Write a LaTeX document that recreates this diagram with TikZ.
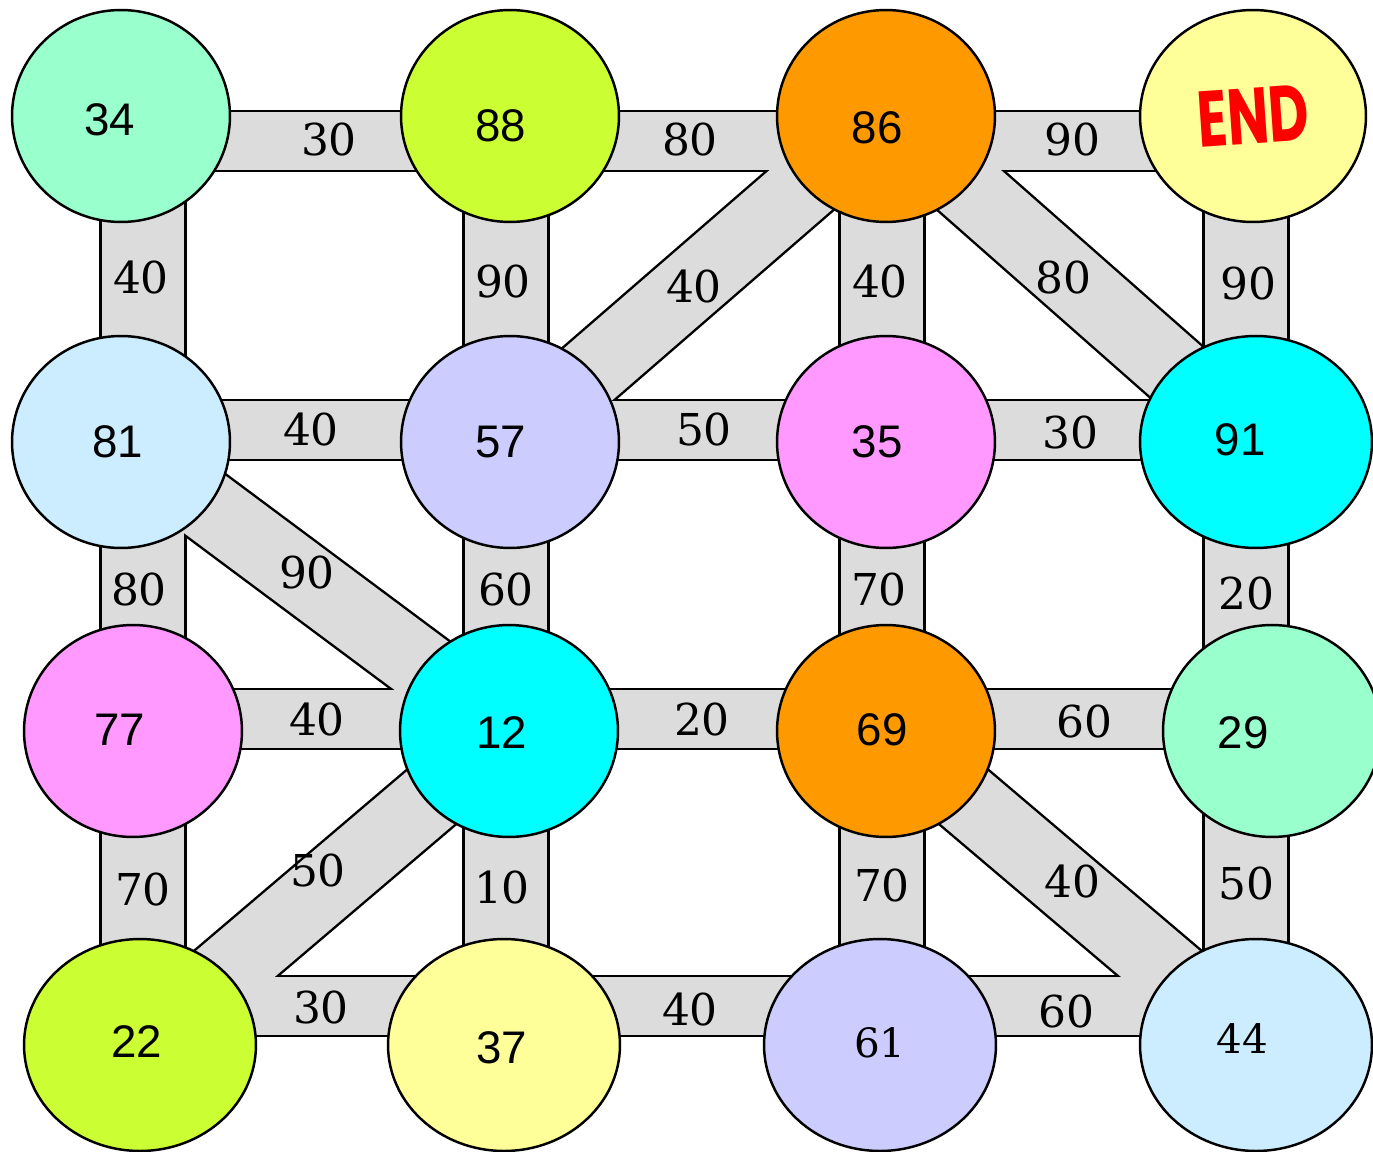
\documentclass[tikz,border=0pt]{standalone}
\usepackage{fontspec}
\setmainfont{DejaVu Serif}
\newfontfamily\numsans{Liberation Sans}
\newfontfamily\endsans{Poppins}
\usetikzlibrary{shapes.geometric}

\definecolor{mint}{HTML}{99FFCC}
\definecolor{lime}{HTML}{CCFF33}
\definecolor{tangerine}{HTML}{FF9900}
\definecolor{lemon}{HTML}{FFFF99}
\definecolor{sky}{HTML}{CCECFF}
\definecolor{lilac}{HTML}{CCCCFF}
\definecolor{pinkish}{HTML}{FF99FF}
\definecolor{aqua}{HTML}{00FFFF}
\definecolor{roadgrey}{HTML}{DCDCDC}
\definecolor{endred}{HTML}{FF0000}

\newcommand{\numfont}{\numsans\fontsize{26}{26}\selectfont}
\newcommand{\serifnum}{\rmfamily\fontsize{23}{23}\selectfont}
\newcommand{\wtfont}{\rmfamily\fontsize{25}{26}\selectfont}

\begin{document}
\begin{tikzpicture}[x=0.02cm, y=-0.02cm,
  ball/.style={ellipse, draw, line width=1.4pt, inner sep=0pt, minimum width=4.36cm, minimum height=4.24cm},
  wideball/.style={ball, minimum width=4.64cm},
  weight/.style={font=\wtfont, inner sep=0pt},
  every label/.style={font=\numfont, inner sep=0pt}]
  \useasboundingbox (0,0) rectangle (1373,1152);
  \fill[white] (0,0) rectangle (1373,1152);

  % circle centres
  \coordinate (c34) at (121,116);
  \coordinate (c88) at (510,116);
  \coordinate (c86) at (886,116);
  \coordinate (cEND) at (1253,116);
  \coordinate (c81) at (121,442);
  \coordinate (c57) at (510,442);
  \coordinate (c35) at (886,442);
  \coordinate (c91) at (1256,442);
  \coordinate (c77) at (133,731);
  \coordinate (c12) at (509,731);
  \coordinate (c69) at (886,731);
  \coordinate (c29) at (1272,731);
  \coordinate (c22) at (140,1045);
  \coordinate (c37) at (504,1045);
  \coordinate (c61) at (880,1045);
  \coordinate (c44) at (1256,1045);

  % road lines
  \coordinate (h1) at (0,141);
  \coordinate (h2) at (0,430);
  \coordinate (h3) at (0,719);
  \coordinate (h4) at (0,1006);
  \coordinate (v1) at (143,0);
  \coordinate (v2) at (506,0);
  \coordinate (v3) at (882,0);
  \coordinate (v4) at (1246,0);

  % roads: black edges first, grey inside after
  \foreach \ink/\more in {black/2.8pt, roadgrey/0pt} {
    \draw[\ink, line width=32.9pt+\more]
      (c34 |- h1) -- (c88 |- h1) -- (c86 |- h1) -- (cEND |- h1)
      (c81 |- h2) -- (c57 |- h2) -- (c35 |- h2) -- (c91 |- h2)
      (c77 |- h3) -- (c12 |- h3) -- (c69 |- h3) -- (c29 |- h3)
      (c22 |- h4) -- (c37 |- h4) -- (c61 |- h4) -- (c44 |- h4);
    \draw[\ink, line width=47.1pt+\more]
      (v1 |- c34) -- (v1 |- c81) -- (v1 |- c77) -- (v1 |- c22)
      (v2 |- c88) -- (v2 |- c57) -- (v2 |- c12) -- (v2 |- c37)
      (v3 |- c86) -- (v3 |- c35) -- (v3 |- c69) -- (v3 |- c61)
      (v4 |- cEND) -- (v4 |- c91) -- (v4 |- c29) -- (v4 |- c44);
    \draw[\ink, line width=40.3pt+\more]
      (c86) -- (c57) (c86) -- (c91) (c81) -- (c12) (c12) -- (c22) (c69) -- (c44);
  }

  % road weights
  \node[weight] (w3488) at (329,140) {30};
  \node[weight] (w8886) at (690,140) {80};
  \node[weight] (w86E) at (1072,140) {90};
  \node[weight] (w3481) at (141,278) {40};
  \node[weight] (w8857) at (503,282) {90};
  \node[weight] (w8657) at (694,287) {40};
  \node[weight] (w8635) at (880,282) {40};
  \node[weight] (w8691) at (1063,278) {80};
  \node[weight] (wE91) at (1248,284) {90};
  \node[weight] (w8157) at (311,430) {40};
  \node[weight] (w5735) at (704,430) {50};
  \node[weight] (w3591) at (1070,433) {30};
  \node[weight] (w8177) at (139,590) {80};
  \node[weight] (w8112) at (307,573) {90};
  \node[weight] (w5712) at (506,590) {60};
  \node[weight] (w3569) at (879,590) {70};
  \node[weight] (w9129) at (1246,594) {20};
  \node[weight] (w7712) at (317,720) {40};
  \node[weight] (w1269) at (702,720) {20};
  \node[weight] (w6929) at (1084,722) {60};
  \node[weight] (w7722) at (143,890) {70};
  \node[weight] (w1222) at (318,871) {50};
  \node[weight] (w1237) at (502,888) {10};
  \node[weight] (w6961) at (882,886) {70};
  \node[weight] (w6944) at (1072,882) {40};
  \node[weight] (w2944) at (1246,884) {50};
  \node[weight] (w2237) at (321,1008) {30};
  \node[weight] (w3761) at (690,1010) {40};
  \node[weight] (w6144) at (1066,1012) {60};

  % stations
  \node[ball, fill=mint, label={[shift={(-11,4)}]center:34}] (n34) at (c34) {};
  \node[ball, fill=lime, label={[shift={(-9,10)}]center:88}] (n88) at (c88) {};
  \node[ball, fill=tangerine, label={[shift={(-9,12)}]center:86}] (n86) at (c86) {};
  \node[ball, fill=lemon, minimum width=4.52cm,
    label={[rotate=4, font=\endsans\bfseries\fontsize{45}{45}\selectfont, text=endred]center:\scalebox{0.7}[1]{END}}] (nEND) at (cEND) {};
  \node[ball, fill=sky, label={[shift={(-3,0)}]center:81}] (n81) at (c81) {};
  \node[ball, fill=lilac, label={[shift={(-9,0)}]center:57}] (n57) at (c57) {};
  \node[ball, fill=pinkish, label={[shift={(-9,0)}]center:35}] (n35) at (c35) {};
  \node[wideball, fill=aqua, label={[shift={(-16,-2)}]center:91}] (n91) at (c91) {};
  \node[ball, fill=pinkish, label={[shift={(-13,-1)}]center:77}] (n77) at (c77) {};
  \node[ball, fill=aqua, label={[shift={(-7,2)}]center:12}] (n12) at (c12) {};
  \node[ball, fill=tangerine, label={[shift={(-4,-1)}]center:69}] (n69) at (c69) {};
  \node[ball, fill=mint, label={[shift={(-29,2)}]center:29}] (n29) at (c29) {};
  \node[wideball, fill=lime, label={[shift={(-3,-3)}]center:22}] (n22) at (c22) {};
  \node[wideball, fill=lemon, label={[shift={(-2,3)}]center:37}] (n37) at (c37) {};
  \node[wideball, fill=lilac, label={[font=\serifnum, shift={(0,-2)}]center:61}] (n61) at (c61) {};
  \node[wideball, fill=sky, label={[font=\serifnum, shift={(-14,-7)}]center:44}] (n44) at (c44) {};
\end{tikzpicture}
\end{document}
